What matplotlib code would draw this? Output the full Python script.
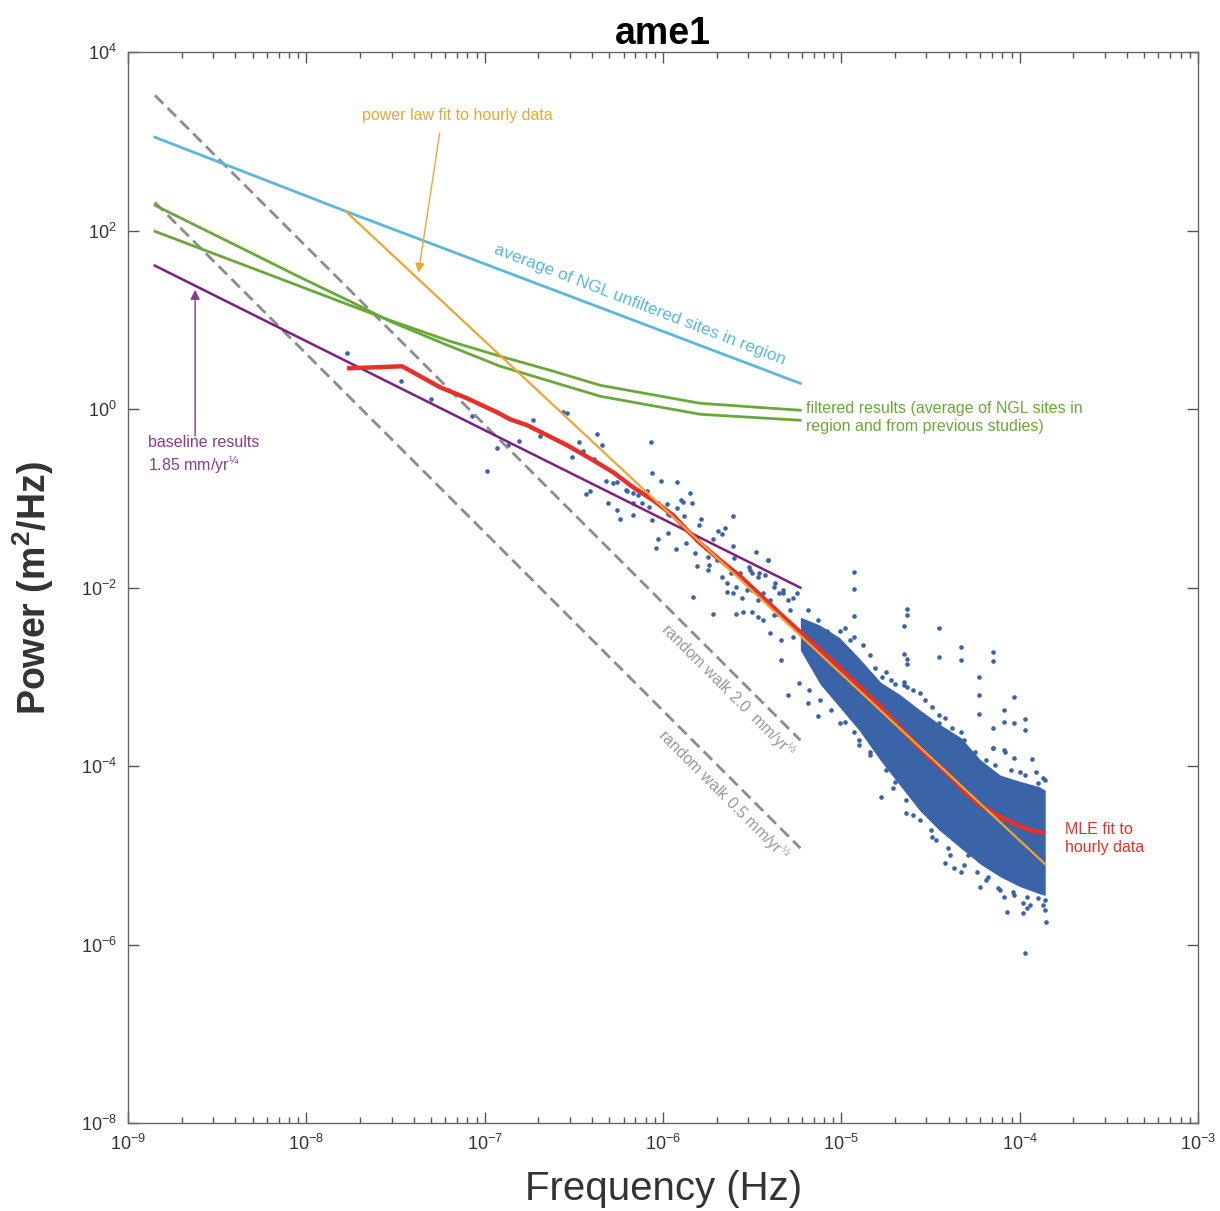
import numpy as np
import matplotlib
matplotlib.use("Agg")
import matplotlib.pyplot as plt

plt.rcParams['font.family'] = ['Liberation Sans', 'DejaVu Sans']
plt.rcParams['mathtext.fontset'] = 'custom'
plt.rcParams['mathtext.rm'] = 'Liberation Sans'
plt.rcParams['mathtext.it'] = 'Liberation Sans:italic'
plt.rcParams['mathtext.bf'] = 'Liberation Sans:bold'

# --- data (log10 units) ---
# periodogram points: log10 frequency (Hz), log10 power (m^2/Hz)
pg_logf = [-7.77, -7.47, -7.30, -7.07, -6.99, -6.93, -6.87, -6.81, -6.73, -6.69,
           -6.56, -6.54, -6.51, -6.47, -6.45, -6.43, -6.41, -6.37, -6.34, -6.39,
           -6.32, -6.28, -6.26, -6.31, -6.26, -6.24, -6.21, -6.20, -6.17, -6.17,
           -6.14, -6.12, -6.09, -6.07, -6.06, -6.03, -6.01, -5.98, -5.97, -5.92,
           -5.90, -5.89, -5.85, -5.84, -6.06, -6.17, -6.08, -5.96, -5.92, -5.88,
           -5.79, -5.80, -5.97, -6.03, -6.04, -5.93, -5.87, -5.81, -5.76, -5.69,
           -5.67, -5.65, -5.61, -5.72, -5.82, -5.75, -5.81, -5.74, -5.70, -5.75,
           -5.67, -5.61, -5.60, -5.64, -5.64, -5.61, -5.59, -5.56, -5.52, -5.50,
           -5.47, -5.43, -5.41, -5.53, -5.50, -5.47, -5.44, -5.40, -5.38, -5.35,
           -5.33, -5.30, -5.27, -5.25, -5.83, -5.72, -5.59, -5.55, -5.47, -5.36,
           -5.62, -5.57, -5.48, -5.41, -5.51, -5.46, -5.37, -5.53, -5.33, -5.50,
           -5.44, -5.38, -5.29, -5.19, -5.13, -5.40, -5.34, -5.27, -5.19, -5.08,
           -5.01, -4.93, -4.93, -4.93, -4.93, -5.34, -5.30, -5.19, -5.13, -5.24,
           -5.01, -4.93, -4.77, -4.72, -4.65, -4.56, -4.49, -4.63, -4.63, -4.65,
           -4.45, -4.65, -4.63, -4.63, -4.45, -4.33, -4.33, -4.15, -4.15, -4.23,
           -4.23, -4.23, -4.03, -4.09, -4.09, -4.03, -3.97, -3.97, -4.15, -4.15,
           -4.09, -4.45, -4.45, -4.65, -4.63, -3.97, -3.85, -4.07, -3.98, -3.96,
           -3.87, -4.78, -4.71, -4.64, -4.60, -4.50, -4.49, -4.42, -4.37, -4.33,
           -4.40, -4.29, -4.24, -4.22, -4.18, -4.12, -4.09, -4.04, -3.96, -3.90,
           -3.86, -3.98, -4.15, -4.08, -4.03, -3.93, -3.87, -3.90, -4.00, -4.33,
           -4.90, -4.84,
           # upper fringe of the dense cloud
           -4.98, -4.95, -4.88, -4.84, -4.81, -4.75, -4.70, -4.60, -4.53, -4.42,
           -4.38, -4.31, -4.25, -4.19, -4.14, -4.05, -3.97, -3.91, -3.86,
           # lower fringe of the dense cloud
           -5.18, -5.12, -5.06, -4.98, -4.90, -4.84, -4.75, -4.70, -4.64, -4.56,
           -4.47, -4.39, -4.31, -4.19, -4.11, -4.03, -3.94, -3.86]
pg_logp = [0.63, 0.32, 0.11, -0.08, -0.69, -0.43, -0.40, -0.35, -0.12, -0.30,
           -0.03, -0.04, -0.53, -0.37, -0.47, -0.95, -0.92, -0.28, -0.40, -0.56,
           -0.80, -0.83, -0.82, -1.05, -1.13, -1.23, -0.91, -0.92, -1.05, -0.94,
           -0.96, -1.05, -0.92, -0.37, -0.71, -1.05, -0.80, -1.06, -1.17, -0.82,
           -1.02, -1.04, -0.94, -1.05, -1.24, -1.19, -1.10, -1.19, -1.11, -1.20,
           -1.23, -1.30, -1.39, -1.45, -1.55, -1.57, -1.50, -1.47, -1.55, -1.36,
           -1.40, -1.33, -1.20, -1.45, -1.61, -1.66, -1.76, -1.74, -1.69, -1.80,
           -1.88, -1.53, -1.67, -1.95, -2.05, -2.06, -1.99, -2.11, -1.77, -1.84,
           -1.88, -1.86, -1.69, -1.95, -2.03, -2.14, -2.06, -2.14, -1.99, -2.06,
           -2.03, -2.14, -2.11, -2.06, -2.10, -2.29, -2.29, -2.27, -2.33, -2.29,
           -1.83, -1.84, -1.60, -1.69, -1.80, -1.84, -1.95, -2.03, -2.06, -2.27,
           -2.36, -2.31, -2.25, -2.25, -2.36, -2.51, -2.59, -2.55, -2.48, -2.48,
           -2.48, -1.82, -2.01, -2.32, -2.55, -2.81, -3.20, -3.29, -3.44, -3.07,
           -3.52, -3.62, -3.00, -3.04, -3.09, -3.18, -3.34, -2.24, -2.31, -2.43,
           -2.45, -2.74, -2.80, -2.85, -2.78, -2.67, -2.81, -2.72, -2.82, -3.00,
           -3.20, -3.42, -3.23, -3.37, -3.50, -3.52, -3.47, -3.60, -3.57, -3.80,
           -3.82, -3.43, -3.52, -3.06, -3.11, -6.09, -5.75, -5.64, -5.65, -5.59,
           -5.56, -4.35, -4.25, -4.52, -4.55, -4.72, -4.80, -5.09, -5.14, -5.19,
           -4.92, -5.00, -5.19, -5.36, -5.24, -5.37, -5.47, -5.41, -5.47, -5.48,
           -5.50, -5.53, -3.80, -3.84, -3.91, -3.92, -4.13, -4.19, -4.07, -3.62,
           -3.76, -3.88,
           -2.45, -2.59, -2.64, -2.76, -2.90, -2.95, -3.08, -3.15, -3.26, -3.46,
           -3.57, -3.71, -3.84, -3.93, -3.99, -4.04, -4.10, -4.07, -4.16,
           -3.15, -3.26, -3.37, -3.51, -3.71, -3.84, -4.04, -4.18, -4.38, -4.60,
           -4.83, -5.00, -5.11, -5.28, -5.39, -5.45, -5.56, -5.61]

# dense part of the periodogram cloud: upper / lower edge
cloud_logf = [-5.23, -5.12, -5.01, -4.90, -4.78, -4.67, -4.56, -4.45,
              -4.33, -4.22, -4.11, -4.00, -3.89, -3.857]
cloud_hi = [-2.33, -2.42, -2.56, -2.79, -3.06, -3.20, -3.37, -3.53,
            -3.68, -3.93, -4.10, -4.17, -4.23, -4.27]
cloud_lo = [-2.70, -3.08, -3.34, -3.60, -3.94, -4.22, -4.50, -4.72,
            -4.92, -5.10, -5.24, -5.35, -5.43, -5.45]

# MLE fit to hourly data
mle_logf = [-7.772, -7.463, -7.402, -7.250, -7.099, -6.931, -6.858, -6.762,
            -6.650, -6.538, -6.392, -6.280, -6.168, -6.056, -5.944, -5.865,
            -5.792, -5.680, -5.568, -5.316, -5.007, -4.783, -4.598, -4.502,
            -4.407, -4.317, -4.222, -4.127, -4.037, -3.942, -3.857]
mle_logp = [0.459, 0.482, 0.415, 0.246, 0.123, -0.034, -0.112, -0.179,
            -0.291, -0.403, -0.571, -0.706, -0.874, -1.020, -1.188, -1.356,
            -1.501, -1.692, -1.871, -2.342, -2.902, -3.328, -3.720, -3.910,
            -4.078, -4.269, -4.437, -4.549, -4.638, -4.717, -4.750]

# power law fit to hourly data
plfit_logf = [-7.78, -3.857]
plfit_logp = [2.22, -5.10]

# average of NGL unfiltered sites
ngl_logf = [-8.85, -7.78, -5.23]
ngl_logp = [3.05, 2.22, 0.29]

# filtered results (two curves)
filt_logf = [-8.849, -8.316, -8.035, -7.755, -7.531, -7.194, -6.913, -6.633,
             -6.353, -5.792, -5.231]
filt1_logp = [2.286, 1.759, 1.479, 1.210, 0.986, 0.706, 0.482, 0.314,
              0.146, -0.056, -0.123]
filt2_logp = [1.994, 1.591, 1.378, 1.165, 0.997, 0.762, 0.594, 0.437,
              0.269, 0.067, -0.011]

# baseline result
base_logf = [-8.85, -5.23]
base_logp = [1.61, -2.00]

# random walk reference lines
rw_logf = [-8.85, -5.23]
rw20_logp = [3.52, -3.71]
rw05_logp = [2.32, -4.92]

BLUE_PTS = '#3b64a8'
C_NGL = '#5bb7dc'
C_GREEN = '#6aa83a'
C_PURPLE = '#7d1f80'
C_ORANGE = '#eba634'
C_RED = '#e8302a'
C_GRAY = '#8c8c8c'


def p10(v):
    return 10.0 ** np.asarray(v)


fig = plt.figure(figsize=(12.2, 12.11), dpi=100)
ax = fig.add_axes([0.105, 0.0727, 0.877, 0.884])

# periodogram
ax.fill_between(p10(cloud_logf), p10(cloud_lo), p10(cloud_hi), color=BLUE_PTS, lw=0, zorder=1)
ax.scatter(p10(pg_logf), p10(pg_logp), s=11, color=BLUE_PTS, lw=0, zorder=1)

# reference lines
ax.plot(p10(rw_logf), p10(rw20_logp), color=C_GRAY, lw=2, dashes=(4.3, 2.2), zorder=2)
ax.plot(p10(rw_logf), p10(rw05_logp), color=C_GRAY, lw=2, dashes=(4.3, 2.2), zorder=2)
ax.plot(p10(ngl_logf), p10(ngl_logp), color=C_NGL, lw=2, zorder=3)
ax.plot(p10(filt_logf), p10(filt1_logp), color=C_GREEN, lw=2, zorder=3)
ax.plot(p10(filt_logf), p10(filt2_logp), color=C_GREEN, lw=2, zorder=3)
ax.plot(p10(base_logf), p10(base_logp), color=C_PURPLE, lw=1.8, zorder=4)
ax.plot(p10(plfit_logf), p10(plfit_logp), color=C_ORANGE, lw=1.6, zorder=5)
ax.plot(p10(mle_logf), p10(mle_logp), color=C_RED, lw=3.2, zorder=4, solid_capstyle='butt')

ax.set_xscale('log')
ax.set_yscale('log')
ax.set_xlim(1e-9, 1e-3)
ax.set_ylim(1e-8, 1e4)
ax.set_xticks([10.0 ** k for k in range(-9, -2)])
ax.set_yticks([10.0 ** k for k in range(-8, 5, 2)])
ax.yaxis.set_minor_locator(matplotlib.ticker.NullLocator())
ax.xaxis.set_minor_locator(matplotlib.ticker.LogLocator(base=10, subs=np.arange(2, 10), numticks=20))
ax.tick_params(which='both', direction='in', top=True, right=True, colors='#555555',
               labelcolor='#333333', labelsize=13, width=1)
ax.tick_params(which='major', length=8, pad=8)
ax.tick_params(which='minor', length=4)
for sp in ax.spines.values():
    sp.set_color('#666666')
    sp.set_linewidth(1)

ax.set_title('ame1', fontsize=27, fontweight='bold', pad=6)
ax.set_xlabel('Frequency (Hz)', fontsize=29, color='#333333')
ax.xaxis.set_label_coords(0.5, -0.044)
ax.set_ylabel(r'Power (m$^\mathbf{2}$/Hz)', fontsize=27, fontweight='bold', color='#333333')
ax.yaxis.set_label_coords(-0.067, 0.5)

# annotations
ax.text(2.05e-8, 1.97e3, 'power law fit to hourly data', color=C_ORANGE, fontsize=11.5,
        ha='left', va='center')
ax.annotate('', xy=(10 ** -7.374, 10 ** 1.50), xytext=(10 ** -7.25, 10 ** 3.13),
            arrowprops=dict(arrowstyle='-|>', color=C_ORANGE, lw=1, mutation_scale=14))
ax.text(10 ** -6.13, 10 ** 1.17, 'average of NGL unfiltered sites in region', color=C_NGL,
        fontsize=12.5, rotation=-21, ha='center', va='center', rotation_mode='anchor')
ax.text(10 ** -5.20, 10 ** -0.09, 'filtered results (average of NGL sites in\nregion and from previous studies)',
        color=C_GREEN, fontsize=11.5, ha='left', va='center', linespacing=1.2)
ax.text(10 ** -8.89, 10 ** -0.52, 'baseline results\n1.85 mm/yr$^{¼}$', color='#8a3a8e',
        fontsize=11.5, ha='left', va='center', linespacing=1.25)
ax.annotate('', xy=(10 ** -8.624, 10 ** 1.37), xytext=(10 ** -8.624, 10 ** -0.33),
            arrowprops=dict(arrowstyle='-|>', color='#8a3a8e', lw=1, mutation_scale=14))
ax.text(10 ** -5.635, 10 ** -3.15, 'random walk 2.0  mm/yr$^{½}$', color='#999999', fontsize=11.5,
        rotation=-45, ha='center', va='center', rotation_mode='anchor')
ax.text(10 ** -5.66, 10 ** -4.33, 'random walk 0.5 mm/yr$^{½}$', color='#999999', fontsize=11.5,
        rotation=-45, ha='center', va='center', rotation_mode='anchor')
ax.text(10 ** -3.745, 10 ** -4.81, 'MLE fit to\nhourly data', color=C_RED, fontsize=11.5,
        ha='left', va='center', linespacing=1.2)

fig.savefig('out.png', dpi=100)
